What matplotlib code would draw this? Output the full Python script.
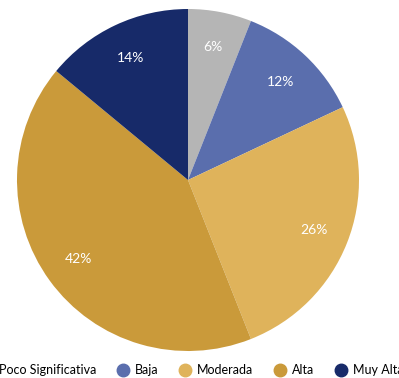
import matplotlib
matplotlib.use("Agg")
import matplotlib.pyplot as plt
from matplotlib.lines import Line2D

categories = ["Poco Significativa", "Baja", "Moderada", "Alta", "Muy Alta"]
values = [6, 12, 26, 42, 14]
colors = ["#B5B5B5", "#5A6EAD", "#DFB35B", "#CA9A3A", "#172A69"]

plt.rcParams['font.family'] = ['Lato', 'DejaVu Sans']

W, H = 399, 378
fig = plt.figure(figsize=(W/100, H/100), dpi=100)
cx, cy, r = 188, 180, 171
ax = fig.add_axes([(cx - r)/W, (H - cy - r)/H, 2*r/W, 2*r/H])
wedges, texts, autotexts = ax.pie(values, colors=colors, startangle=90, counterclock=False,
                                  autopct=lambda p: f"{p:.0f}%", pctdistance=0.79,
                                  radius=1, wedgeprops=dict(linewidth=0))
for t in autotexts:
    t.set_color("white")
    t.set_fontsize(10)
ax.set_xlim(-1, 1)
ax.set_ylim(-1, 1)
ax.set_aspect('equal')
ax.axis('off')

handles = [Line2D([0], [0], marker='o', linestyle='none', markersize=9,
                  markerfacecolor=c, markeredgecolor=c) for c in colors]
fig.legend(handles, categories, loc='center', bbox_to_anchor=(192/W, 1 - 370/H),
           ncol=5, frameon=False, fontsize=9, handletextpad=0.5, columnspacing=1.6,
           handlelength=1.0)
fig.savefig("out.png", dpi=100)
